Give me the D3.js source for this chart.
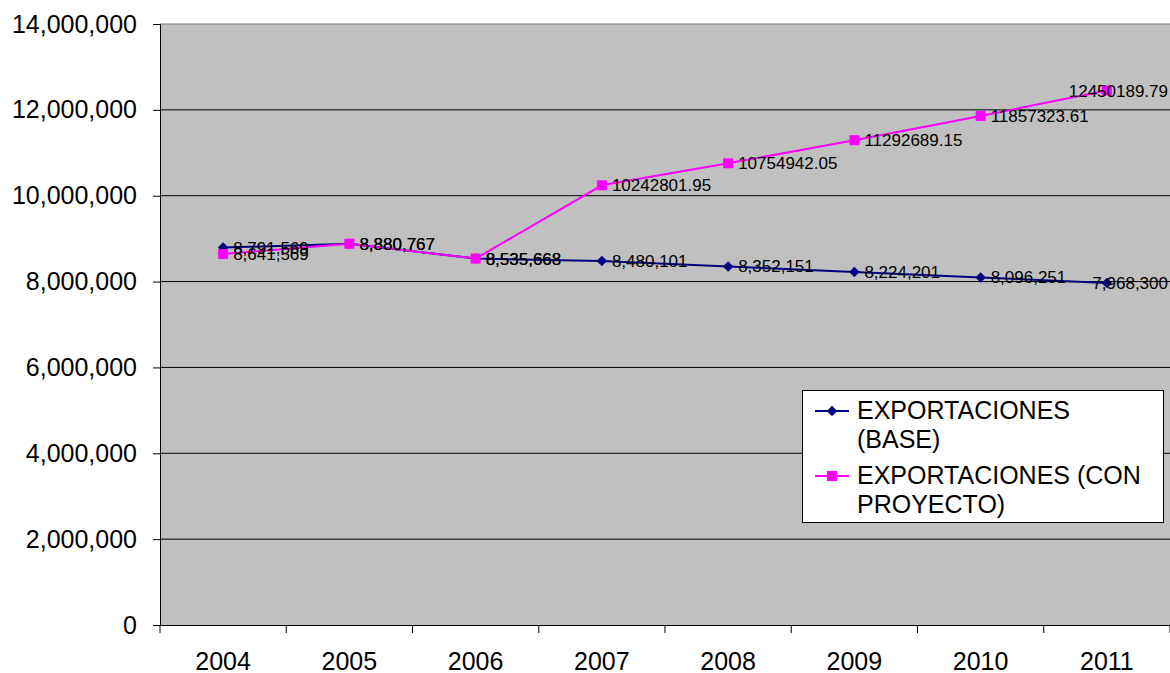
<!DOCTYPE html>
<html><head><meta charset="utf-8">
<script src="https://cdn.jsdelivr.net/npm/d3@7"></script>
<style>body{margin:0;background:#fff;}svg{display:block;font-family:"Liberation Sans",Arial,sans-serif;}</style>
</head><body><svg id="c" width="1170" height="673"></svg>
<script>
const years = ["2004","2005","2006","2007","2008","2009","2010","2011"];
const baseValues = [8791569, 8880767, 8535668, 8480101, 8352151, 8224201, 8096251, 7968300];
const baseLabels = ["8,791,569","8,880,767","8,535,668","8,480,101","8,352,151","8,224,201","8,096,251","7,968,300"];
const projValues = [8641569, 8880767, 8535668, 10242801.95, 10754942.05, 11292689.15, 11857323.61, 12450189.79];
const projLabels = ["8,641,569","8,880,767","8,535,668","10242801.95","10754942.05","11292689.15","11857323.61","12450189.79"];
const yTicks = [0,2000000,4000000,6000000,8000000,10000000,12000000,14000000];
const seriesNames = [["EXPORTACIONES","(BASE)"],["EXPORTACIONES (CON","PROYECTO)"]];

const svg = d3.select("#c");
const L=160, R=1170, T=24, B=625;
const x = d3.scaleBand().domain(years).range([L,R]);
const y = d3.scaleLinear().domain([0,14000000]).range([B,T]);
const FF = "Liberation Sans, Arial, sans-serif";

svg.append("rect").attr("x",L).attr("y",T).attr("width",R-L).attr("height",B-T).attr("fill","#c0c0c0");
svg.selectAll("line.grid").data(yTicks.filter(d=>d>0)).enter().append("line")
  .attr("x1",L).attr("x2",R).attr("y1",d=>y(d)).attr("y2",d=>y(d))
  .attr("stroke",d=>d===14000000?"#808080":"#000").attr("stroke-width",1);

const yAxis = d3.axisLeft(y).tickValues(yTicks).tickSize(7).tickPadding(16).tickFormat(d3.format(","));
const gy = svg.append("g").attr("transform",`translate(${L},0)`).call(yAxis);
gy.select(".domain").attr("stroke","#000");
gy.selectAll("text").attr("font-size",25).attr("fill","#000").attr("font-family",FF);

const xAxis = d3.axisBottom(x).tickSize(0).tickPadding(27);
const gx = svg.append("g").attr("transform",`translate(0,${B})`).call(xAxis);
gx.select(".domain").attr("stroke","#000");
gx.selectAll("text").attr("font-size",25).attr("fill","#000").attr("font-family",FF);
const bounds = years.map(d=>x(d)).concat([R]);
svg.selectAll("line.bt").data(bounds).enter().append("line")
  .attr("x1",d=>d).attr("x2",d=>d).attr("y1",B).attr("y2",B+8).attr("stroke","#000");

const cx = d=>x(d)+x.bandwidth()/2;
const line = d3.line().x((d,i)=>cx(years[i])).y(d=>y(d));

svg.append("path").datum(baseValues).attr("d",line).attr("fill","none").attr("stroke","#000080").attr("stroke-width",2);
svg.append("path").datum(projValues).attr("d",line).attr("fill","none").attr("stroke","#ff00ff").attr("stroke-width",2);

const diamond = d3.symbol().type(d3.symbolDiamond2).size(70);
svg.selectAll("path.bm").data(baseValues).enter().append("path")
  .attr("d",diamond).attr("transform",(d,i)=>`translate(${cx(years[i])},${y(d)})`).attr("fill","#000080");
svg.selectAll("rect.pm").data(projValues).enter().append("rect")
  .attr("x",(d,i)=>cx(years[i])-5).attr("y",d=>y(d)-5).attr("width",10).attr("height",10).attr("fill","#ff00ff");

function labels(vals, labs){
  svg.selectAll(null).data(vals).enter().append("text")
    .attr("x",(d,i)=> i===vals.length-1 ? R-2 : cx(years[i])+10)
    .attr("text-anchor",(d,i)=> i===vals.length-1 ? "end" : "start")
    .attr("y",d=>y(d)+6).attr("font-size",17).attr("fill","#000")
    .text((d,i)=>labs[i]);
}
labels(baseValues, baseLabels);
labels(projValues, projLabels);

const lg = svg.append("g");
lg.append("rect").attr("x",802.5).attr("y",390.5).attr("width",361).attr("height",132).attr("fill","#fff").attr("stroke","#000");
const lgY = [411, 476];
const colors = ["#000080","#ff00ff"];
lgY.forEach((ly,k)=>{
  lg.append("line").attr("x1",815).attr("x2",849).attr("y1",ly).attr("y2",ly).attr("stroke",colors[k]).attr("stroke-width",2);
  if(k===0) lg.append("path").attr("d",diamond).attr("transform",`translate(832,${ly})`).attr("fill",colors[k]);
  else lg.append("rect").attr("x",827).attr("y",ly-5).attr("width",10).attr("height",10).attr("fill",colors[k]);
  seriesNames[k].forEach((t,j)=>{
    lg.append("text").attr("x",857).attr("y",ly+8+j*29).attr("font-size",25).attr("fill","#000").text(t);
  });
});
</script></body></html>
